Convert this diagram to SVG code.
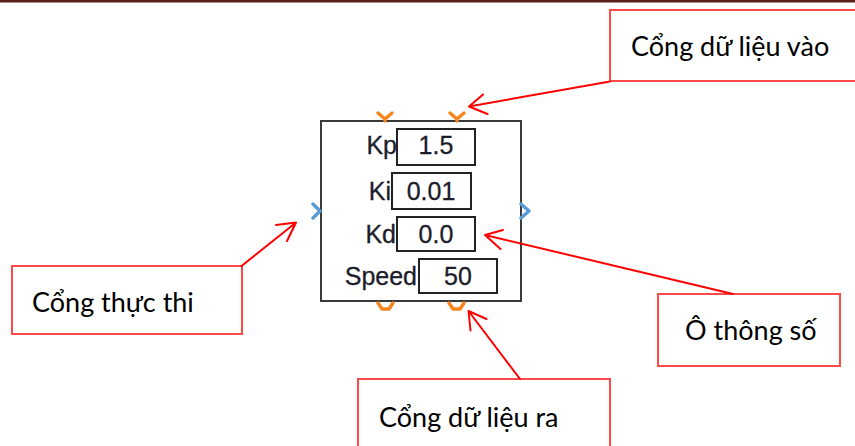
<svg xmlns="http://www.w3.org/2000/svg" width="855" height="446" viewBox="0 0 855 446">
<style>
  .callout{fill:#fff;stroke:#ff4a4a;stroke-width:2}
  .ctext{font-family:Lato,"Open Sans","Noto Sans",sans-serif;font-size:27px;fill:#000}
  .lead{fill:none;stroke:#ff0000;stroke-width:2;stroke-linecap:round;stroke-linejoin:round}
  .block{fill:#fff;stroke:#3a3a3a;stroke-width:2}
  .pbox{fill:#fff;stroke:#222;stroke-width:2}
  .lbl{font-family:"Liberation Sans",Arial,sans-serif;font-size:25px;fill:#1c1c2a;stroke:#1c1c2a;stroke-width:0.3}
  .val{font-family:"Liberation Sans",Arial,sans-serif;font-size:25px;fill:#1c1c2a;stroke:#1c1c2a;stroke-width:0.3;text-anchor:middle}
  .oport{fill:none;stroke:#f7861e;stroke-width:3.5;stroke-linejoin:round;stroke-linecap:round}
  .bport{fill:none;stroke:#5b9bd5;stroke-width:3.5;stroke-linejoin:round;stroke-linecap:round}
</style>
<rect x="0" y="0" width="855" height="2.5" fill="#5e1f1f"/>

<g id="block">
  <rect class="block" x="321" y="121" width="200" height="180"/>
  <path class="oport" d="M378,113 L385,119 L392,113 M385,119 L385,121"/>
  <path class="oport" d="M450,113 L457,119 L464,113 M457,119 L457,121"/>
  <path class="oport" d="M378,303 L382,309 L389,309 L393,303"/>
  <path class="oport" d="M449,303 L453,309 L460,309 L464,303"/>
  <path class="bport" d="M313,204 L320,211 L313,218"/>
  <path class="bport" d="M521,204 L529,211 L521,218"/>
  <g id="param-kp">
    <text class="lbl" x="397" y="154" text-anchor="end">Kp</text>
    <rect class="pbox" x="397" y="129" width="78" height="36"/>
    <text class="val" x="436" y="154">1.5</text>
  </g>
  <g id="param-ki">
    <text class="lbl" x="391" y="200" text-anchor="end">Ki</text>
    <rect class="pbox" x="392" y="173" width="79" height="36"/>
    <text class="val" x="431" y="200">0.01</text>
  </g>
  <g id="param-kd">
    <text class="lbl" x="396" y="243" text-anchor="end">Kd</text>
    <rect class="pbox" x="397" y="217" width="78" height="34"/>
    <text class="val" x="436" y="243">0.0</text>
  </g>
  <g id="param-speed">
    <text class="lbl" x="417" y="285" text-anchor="end">Speed</text>
    <rect class="pbox" x="419" y="259" width="78" height="34"/>
    <text class="val" x="458" y="285">50</text>
  </g>
</g>

<g id="callout-input">
  <rect class="callout" x="610" y="10" width="250" height="71"/>
  <text class="ctext" x="631" y="56">Cổng dữ liệu vào</text>
</g>
<g id="callout-exec">
  <rect class="callout" x="12" y="266" width="230" height="68"/>
  <text class="ctext" x="32" y="312">Cổng thực thi</text>
</g>
<g id="callout-param">
  <rect class="callout" x="658" y="294" width="182" height="72"/>
  <text class="ctext" x="685" y="340">Ô thông số</text>
</g>
<g id="callout-output">
  <rect class="callout" x="358" y="379" width="252" height="80"/>
  <text class="ctext" x="379" y="427">Cổng dữ liệu ra</text>
</g>

<g id="connectors">
  <path class="lead" d="M610,81.5 L469,106.5 M483,94.5 L469,106.5 L487.5,114"/>
  <path class="lead" d="M241.5,266 L296,222.5 M276,225 L296,222.5 L287,241"/>
  <path class="lead" d="M733,294 L485,235 M503,230 L485,235 L500.5,249"/>
  <path class="lead" d="M520,379 L468.5,311 M486.5,319 L468.5,311 L470.5,330.5"/>
</g>
</svg>
